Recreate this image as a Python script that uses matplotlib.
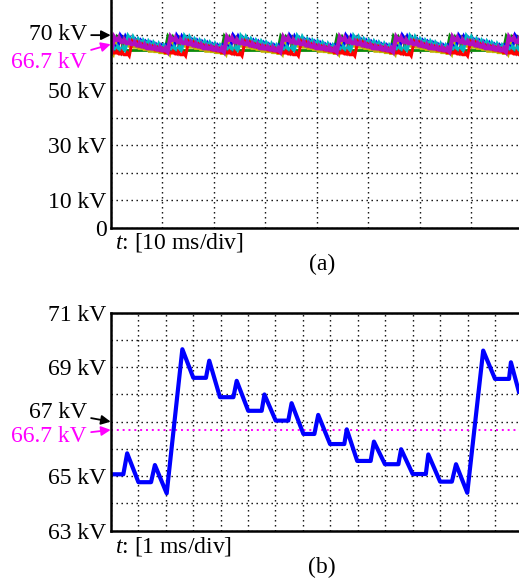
import numpy as np
import matplotlib
matplotlib.use("Agg")
import matplotlib.pyplot as plt

plt.rcParams['font.family'] = ['Liberation Serif', 'DejaVu Serif']
plt.rcParams['mathtext.fontset'] = 'custom'
plt.rcParams['mathtext.rm'] = 'Liberation Serif'
plt.rcParams['mathtext.it'] = 'Liberation Serif:italic'

# (b) zoomed DC voltage, time in ms, voltage in kV
zoom_t = [0.00, 0.46, 0.60, 1.01, 1.47, 1.61, 2.04, 2.61, 3.01, 3.47, 3.59,
          3.98, 4.47, 4.59, 5.01, 5.50, 5.60, 6.01, 6.47, 6.59, 7.02, 7.42,
          7.56, 7.99, 8.51, 8.60, 8.98, 9.47, 9.59, 9.99, 10.48, 10.58, 11.00,
          11.48, 11.57, 12.00, 12.43, 12.58, 12.99, 13.57, 14.00, 14.51, 14.58,
          14.87]
zoom_v = [65.07, 65.07, 65.84, 64.78, 64.78, 65.41, 64.37, 69.66, 68.61, 68.61,
          69.24, 67.90, 67.90, 68.50, 67.40, 67.40, 68.00, 67.04, 67.04, 67.68,
          66.55, 66.55, 67.25, 66.18, 66.18, 66.72, 65.56, 65.56, 66.27, 65.44,
          65.44, 65.99, 65.08, 65.08, 65.80, 64.80, 64.80, 65.44, 64.39, 69.61,
          68.57, 68.57, 69.18, 68.10]
ref_level = 66.7

# (a) all module voltages over 80 ms: one ripple period is taken from (b)
cycle_first, cycle_last = 6, 38
trace_colors = ['#0a8a0a', '#c0b400', '#0000ff', '#555555', '#00b8c0', '#ff0000', '#b010c0']
trace_phase = [-0.4, 0.5, 1.3, 2.0, 2.8, 3.6, 0.1]      # ms, trough position
trace_shift = [0.0, -1.4, 0.4, -0.8, 0.1, -1.9, -0.3]   # kV
trace_width = [2.2, 2.2, 2.2, 2.2, 2.4, 2.2, 3.0]
floor_level = 64.6

W, H = 519, 579
fig = plt.figure(figsize=(W / 100, H / 100), dpi=100)
left = 110.7 / W

dot = (0, (1, 2.6))


def pix(x, y):
    return (x, H - y)


# ---------- (a) ----------
ax1 = fig.add_axes([left, 1 - 227.7 / H, 1 - left, 227.7 / H])
ax1.set_xlim(0, (W - 110.7) / 5.15)
ax1.set_ylim(0, 227.7 / 2.75)
ax1.set_xticks(np.arange(0, 80, 10))
ax1.set_yticks(np.arange(0, 80, 10))
ax1.set_xticklabels([])
ax1.set_yticklabels(['0', '10 kV', '', '30 kV', '', '50 kV', '', ''])
ax1.grid(True, color='black', ls=dot, lw=1.0)
ax1.set_axisbelow(True)

cyc_t = np.array(zoom_t[cycle_first:cycle_last + 1]) - zoom_t[cycle_first]
cyc_v = np.array(zoom_v[cycle_first:cycle_last + 1])
period = cyc_t[-1]
for c, ph, sh, lw in zip(trace_colors, trace_phase, trace_shift, trace_width):
    tt, vv = [], []
    for k in range(-1, 9):
        tt.extend(cyc_t[:-1] + ph + k * period)
        vv.extend(cyc_v[:-1] + sh)
    if c == '#0a8a0a':
        ax1.axhline(floor_level, color=c, lw=2.0)
    ax1.plot(tt, vv, color=c, lw=lw, solid_joinstyle='miter')

# ---------- (b) ----------
ax2 = fig.add_axes([left, 1 - 530.7 / H, 1 - left, (530.7 - 312.7) / H])
ax2.set_xlim(0, (W - 110.7) / 27.45)
ax2.set_ylim(63, 71)
ax2.set_xticks(np.arange(0, 15, 1))
ax2.set_yticks(np.arange(63, 72, 1))
ax2.set_xticklabels([])
ax2.set_yticklabels(['63 kV', '', '65 kV', '', '', '', '69 kV', '', '71 kV'])
ax2.grid(True, color='black', ls=dot, lw=1.0)
ax2.set_axisbelow(True)
ax2.axhline(ref_level, color='#ff00ff', ls=(0, (1, 2)), lw=1.4)
ax2.plot(zoom_t, zoom_v, color='#0000ff', lw=3.0, solid_joinstyle='round')

for ax in (ax1, ax2):
    ax.spines['right'].set_visible(False)
    for s in ('left', 'bottom', 'top'):
        ax.spines[s].set_linewidth(1.8)
    ax.tick_params(length=0, pad=3, labelsize=17)
ax1.spines['top'].set_visible(False)

arrow_k = dict(arrowstyle='-|>', color='black', lw=1.3, shrinkA=1, shrinkB=0, mutation_scale=14)
arrow_m = dict(arrowstyle='-|>', color='#ff00ff', lw=1.3, shrinkA=1, shrinkB=0, mutation_scale=14)

ax1.annotate('70 kV', xy=(0, 70), xycoords='data', xytext=pix(87, 35),
             textcoords='figure pixels', ha='right', va='center', fontsize=17,
             arrowprops=arrow_k, annotation_clip=False)
ax1.annotate('66.7 kV', xy=(0, ref_level), xycoords='data', xytext=pix(87, 62),
             textcoords='figure pixels', ha='right', va='center', fontsize=17,
             color='#ff00ff', arrowprops=arrow_m, annotation_clip=False)
ax2.annotate('67 kV', xy=(0, 67), xycoords='data', xytext=pix(87, 412),
             textcoords='figure pixels', ha='right', va='center', fontsize=17,
             arrowprops=arrow_k, annotation_clip=False)
ax2.annotate('66.7 kV', xy=(0, ref_level), xycoords='data', xytext=pix(87, 437),
             textcoords='figure pixels', ha='right', va='center', fontsize=17,
             color='#ff00ff', arrowprops=arrow_m, annotation_clip=False)

fig.text(115 / W, 1 - 243 / H, r'$t$: [10 ms/div]', ha='left', va='center', fontsize=17)
fig.text(322 / W, 1 - 264 / H, '(a)', ha='center', va='center', fontsize=17)
fig.text(115 / W, 1 - 546 / H, r'$t$: [1 ms/div]', ha='left', va='center', fontsize=17)
fig.text(322 / W, 1 - 567 / H, '(b)', ha='center', va='center', fontsize=17)

fig.savefig('out.png', dpi=100)
